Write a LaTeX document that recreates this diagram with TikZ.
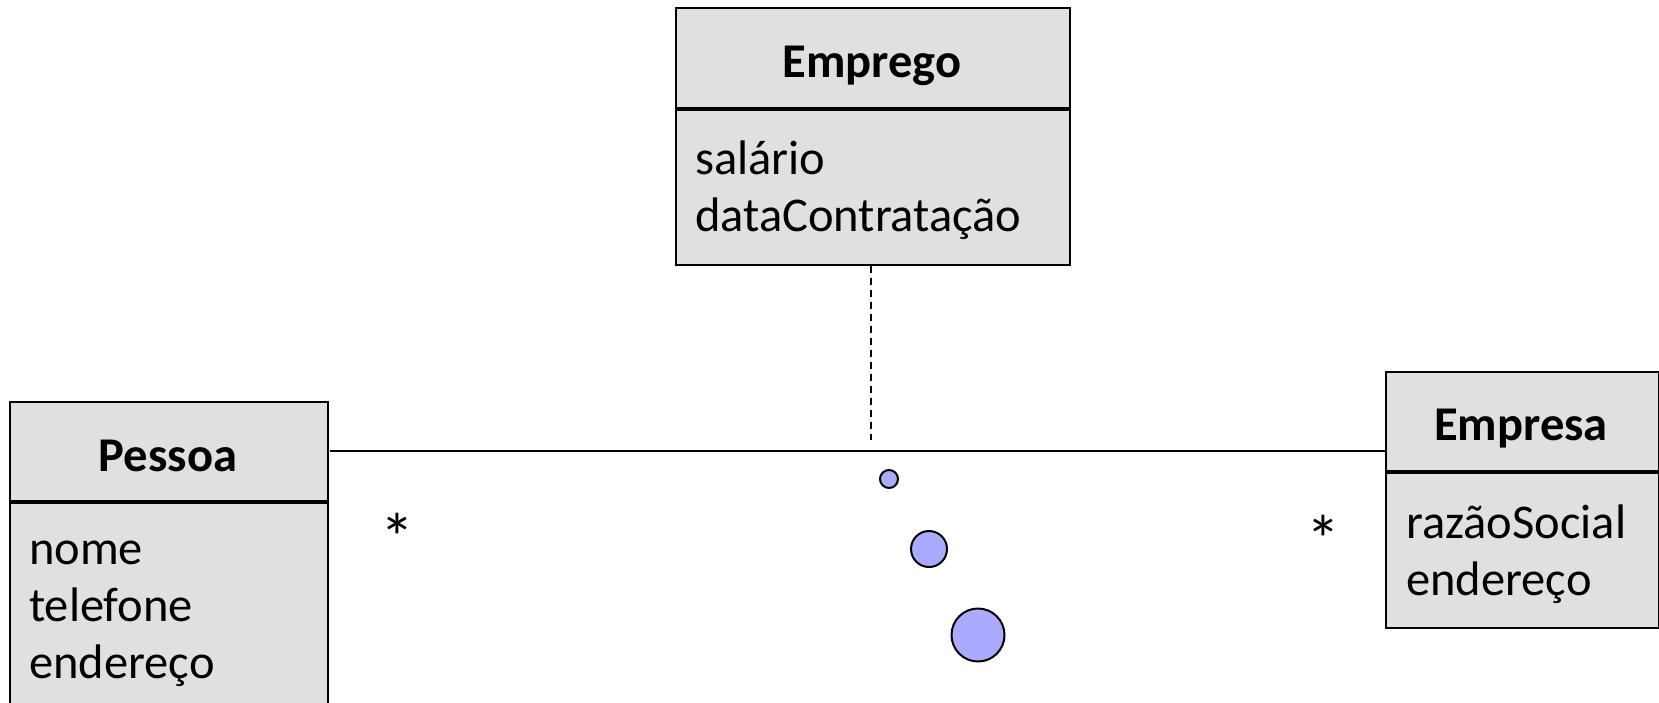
\documentclass[tikz,border=0pt]{standalone}
\usepackage{fontspec}
\setmainfont{Carlito}
\definecolor{boxgrey}{RGB}{224,224,224}
\definecolor{bubble}{RGB}{170,170,255}
\tikzset{
  part/.style={draw=black, fill=boxgrey, line width=2pt, inner sep=0pt, anchor=north west},
  divider/.style={line width=3pt},
  title/.style={font=\fontsize{48.5}{57}\selectfont\bfseries, inner sep=0pt, anchor=base},
  attrs/.style={font=\fontsize{48.5}{57}\selectfont, align=left, inner sep=0pt, anchor=base west},
  mult/.style={font=\fontsize{68}{70}\selectfont, inner sep=0pt, anchor=base},
  assoc/.style={line width=2pt},
  link/.style={line width=1.6pt, dash pattern=on 7pt off 5pt},
  dot/.style={draw=black, fill=bubble, line width=2pt}
}
\begin{document}
\begin{tikzpicture}[x=1pt,y=-1pt]
\useasboundingbox (0,0) rectangle (1659,702);
\clip (0,0) rectangle (1659,702);
% Emprego
\node[part, minimum width=394pt, minimum height=157pt] (empB) at (675,107) {};
\node[part, minimum width=394pt, minimum height=100pt] (empH) at (675,7) {};
\draw[divider] (empH.south west) -- (empH.south east);
\node[title] (empT) at (872,77) {Emprego};
\node[attrs] (empA) at (695,231) {salário\\dataContratação};
% Pessoa
\node[part, minimum width=318pt, minimum height=260pt] (pesB) at (9,500) {};
\node[part, minimum width=318pt, minimum height=99pt] (pesH) at (9,401) {};
\draw[divider] (pesH.south west) -- (pesH.south east);
\node[title] (pesT) at (168,471) {Pessoa};
\node[attrs] (pesA) at (29,678) {nome\\telefone\\endereço};
% Empresa
\node[part, minimum width=273pt, minimum height=157pt] (epsB) at (1385,470) {};
\node[part, minimum width=273pt, minimum height=99pt] (epsH) at (1385,371) {};
\draw[divider] (epsH.south west) -- (epsH.south east);
\node[title] (epsT) at (1521,440) {Empresa};
\node[attrs] (epsA) at (1406,595) {razãoSocial\\endereço};
% association
\coordinate (aStart) at (330,451);
\draw[assoc] (aStart) -- (aStart -| epsH.west);
\coordinate (linkEnd) at (871,440);
\draw[link] (empB.south -| linkEnd) -- (linkEnd);
\node[mult] (m1) at (397,561) {*};
\node[mult] (m2) at (1323,563) {*};
% bubbles
\node[dot, circle, minimum size=18pt, inner sep=0pt] (b1) at (889,479) {};
\node[dot, circle, minimum size=36pt, inner sep=0pt] (b2) at (929,549) {};
\node[dot, circle, minimum size=53pt, inner sep=0pt] (b3) at (978,635) {};
\end{tikzpicture}
\end{document}
